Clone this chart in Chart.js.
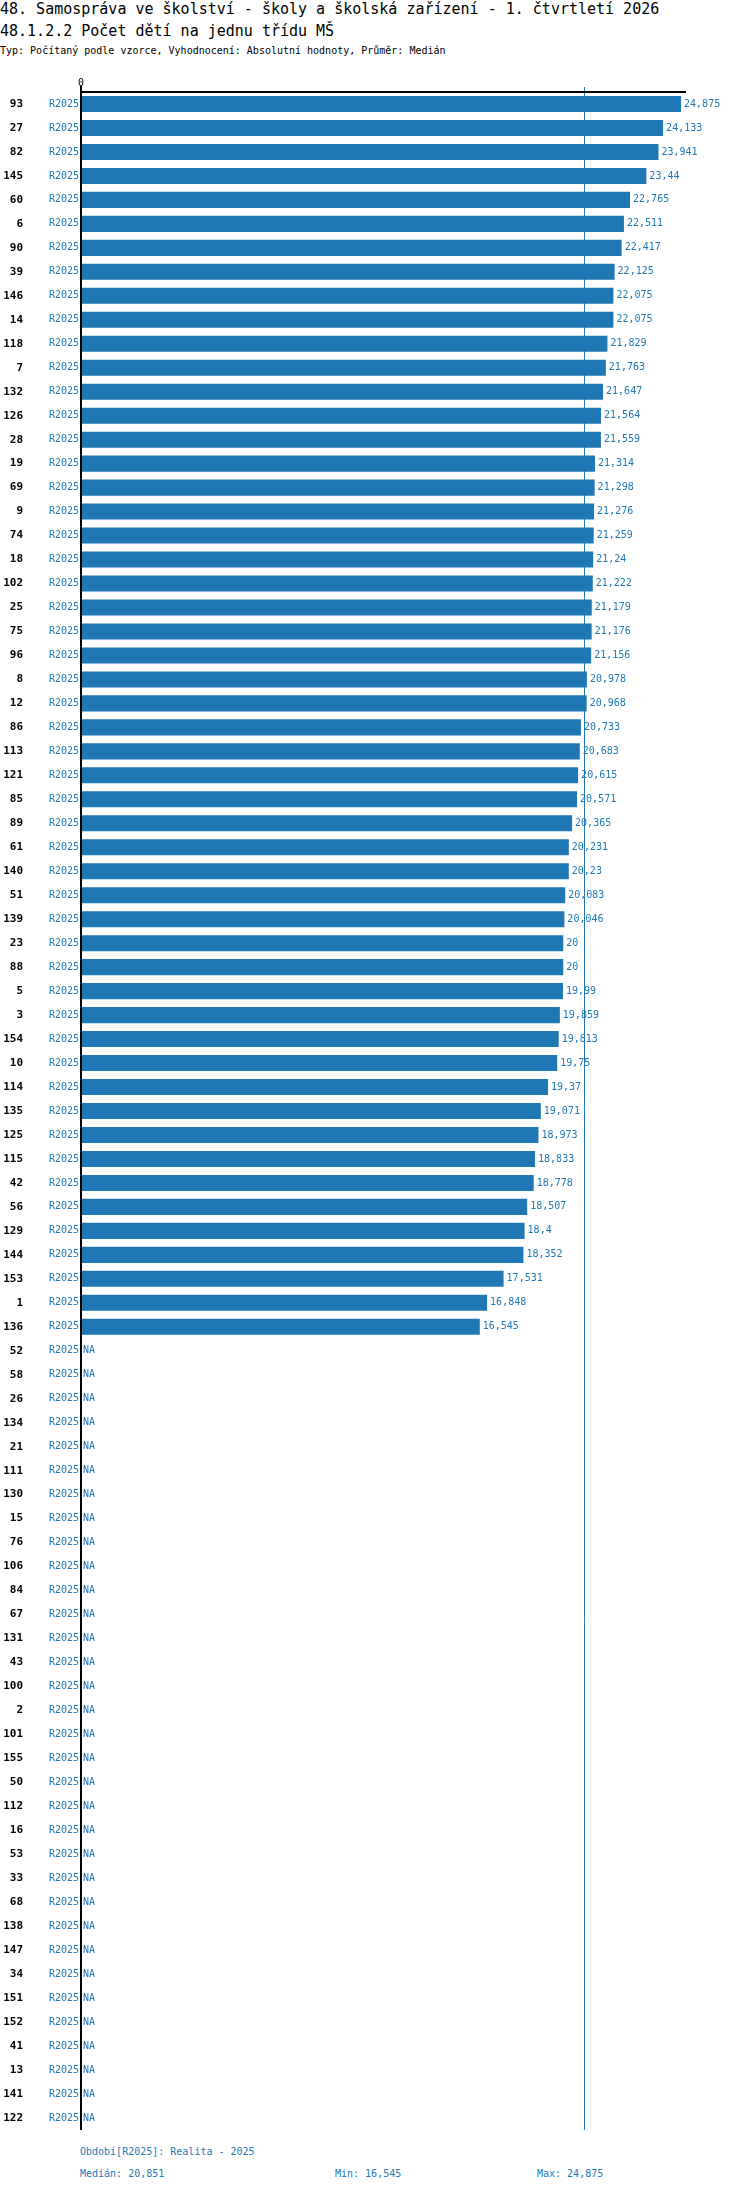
<!DOCTYPE html>
<html><head><meta charset="utf-8">
<script src="https://cdn.jsdelivr.net/npm/chart.js@4/dist/chart.umd.min.js"></script>
<style>
body{margin:0;width:750px;height:2192px;position:relative;background:#fff;font-family:"DejaVu Sans Mono",monospace;}
.t{position:absolute;left:0;white-space:nowrap;color:#000;}
.f{position:absolute;white-space:nowrap;color:#1f77b4;font-size:10px;}
#wrap{position:absolute;left:0;top:60px;width:750px;height:2070px;}
</style></head><body>
<div class="t" style="top:0px;font-size:15px;">48. Samospráva ve školství - školy a školská zařízení - 1. čtvrtletí 2026</div>
<div class="t" style="top:22px;font-size:15px;">48.1.2.2 Počet dětí na jednu třídu MŠ</div>
<div class="t" style="top:45px;font-size:10px;">Typ: Počítaný podle vzorce, Vyhodnocení: Absolutní hodnoty, Průměr: Medián</div>
<div id="wrap"><canvas id="c"></canvas></div>
<div class="f" style="left:80px;top:2146px;">Období[R2025]: Realita - 2025</div>
<div class="f" style="left:80px;top:2168px;">Medián: 20,851</div>
<div class="f" style="left:335px;top:2168px;">Min: 16,545</div>
<div class="f" style="left:537px;top:2168px;">Max: 24,875</div>
<script>
const categories=["93","27","82","145","60","6","90","39","146","14","118","7","132","126","28","19","69","9","74","18","102","25","75","96","8","12","86","113","121","85","89","61","140","51","139","23","88","5","3","154","10","114","135","125","115","42","56","129","144","153","1","136",
"52","58","26","134","21","111","130","15","76","106","84","67","131","43","100","2","101","155","50","112","16","53","33","68","138","147","34","151","152","41","13","141","122"];
const values=[24.875,24.133,23.941,23.44,22.765,22.511,22.417,22.125,22.075,22.075,21.829,21.763,21.647,21.564,21.559,21.314,21.298,21.276,21.259,21.24,21.222,21.179,21.176,21.156,20.978,20.968,20.733,20.683,20.615,20.571,20.365,20.231,20.23,20.083,20.046,20,20,19.99,19.859,19.813,19.75,19.37,19.071,18.973,18.833,18.778,18.507,18.4,18.352,17.531,16.848,16.545];
while(values.length<categories.length)values.push(null);
const periodLabel="R2025";
const median=20.851;
const BLUE="#1f77b4";
const fmt=v=>String(v).replace('.',',');
const plug={id:'p',afterDatasetsDraw(ch){
 const c=ch.ctx,x=ch.scales.x,y=ch.scales.y,a=ch.chartArea;
 c.save();
 const mx=Math.round(x.getPixelForValue(median))+0.5;
 c.strokeStyle=BLUE;c.lineWidth=1;c.beginPath();c.moveTo(mx,a.top-5);c.lineTo(mx,a.bottom);c.stroke();
 c.strokeStyle="#000";c.lineWidth=2;
 c.beginPath();c.moveTo(a.left,a.top);c.lineTo(a.right,a.top);c.stroke();
 c.beginPath();c.moveTo(a.left+1,a.top-6);c.lineTo(a.left+1,a.bottom);c.stroke();
 c.fillStyle="#000";c.font="10px 'DejaVu Sans Mono'";c.textAlign="center";c.textBaseline="bottom";
 c.fillText("0",a.left+1,a.top-4);
 c.textBaseline="middle";
 categories.forEach((cat,i)=>{
  const py=y.getPixelForValue(i);
  c.fillStyle="#000";c.font="bold 11px 'DejaVu Sans Mono'";c.textAlign="right";c.fillText(cat,23,py);
  c.fillStyle=BLUE;c.font="10px 'DejaVu Sans Mono'";c.textAlign="right";c.fillText(periodLabel,79,py);
  c.textAlign="left";
  const v=values[i];
  if(v==null)c.fillText("NA",83,py);else c.fillText(fmt(v),x.getPixelForValue(v)+3,py);
 });
 c.restore();
}};
new Chart(document.getElementById('c'),{type:'bar',
 data:{labels:categories,datasets:[{data:values,backgroundColor:BLUE,barPercentage:0.67,categoryPercentage:1}]},
 options:{indexAxis:'y',responsive:true,maintainAspectRatio:false,animation:false,
  layout:{padding:{left:80,right:64,top:32,bottom:0}},
  plugins:{legend:{display:false},tooltip:{enabled:false}},
  scales:{x:{display:false,min:0,max:25.08},y:{display:false}}},
 plugins:[plug]});
</script></body></html>
